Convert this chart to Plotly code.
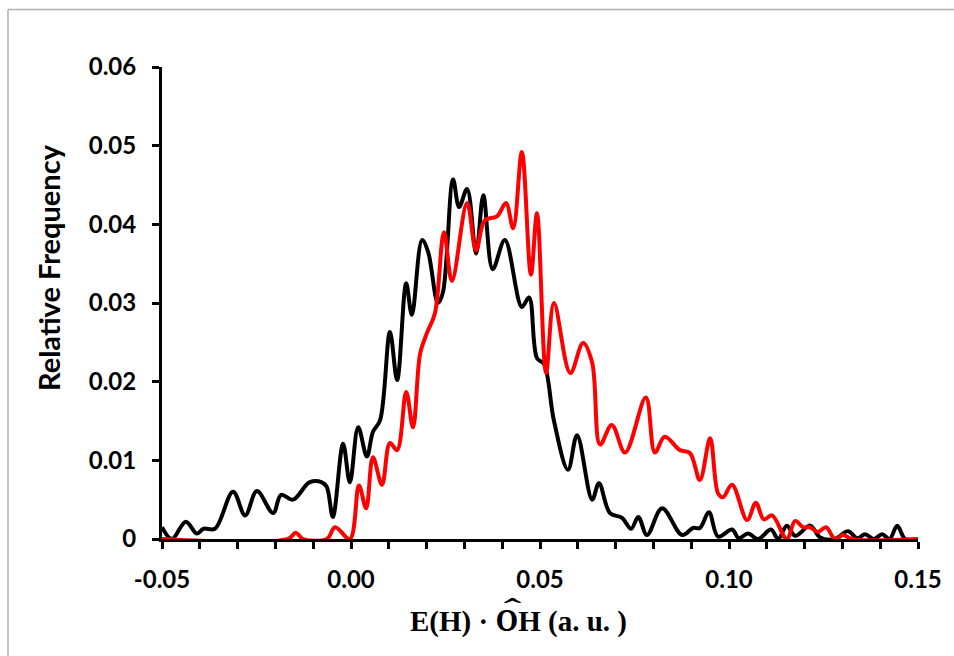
import plotly.graph_objects as go

# Black series
black_x = [-0.0500, -0.0474, -0.0437, -0.0408, -0.0390, -0.0360, -0.0312, -0.0280, -0.0249,
           -0.0206, -0.0185, -0.0153, -0.0110, -0.0077, -0.0064, -0.0048, -0.0021, -0.0003,
           0.0019, 0.0042, 0.0058, 0.0077, 0.0103, 0.0122, 0.0146, 0.0161, 0.0188, 0.0204,
           0.0230, 0.0243, 0.0270, 0.0286, 0.0307, 0.0331, 0.0350, 0.0375, 0.0407, 0.0452,
           0.0471, 0.0492, 0.0511, 0.0537, 0.0574, 0.0598, 0.0638, 0.0656, 0.0685, 0.0717,
           0.0741, 0.0760, 0.0783, 0.0823, 0.0876, 0.0905, 0.0923, 0.0947, 0.0971, 0.1008,
           0.1026, 0.1050, 0.1077, 0.1111, 0.1130, 0.1153, 0.1175, 0.1215, 0.1241, 0.1280,
           0.1315, 0.1339, 0.1360, 0.1383, 0.1405, 0.1425, 0.1445, 0.1466, 0.1500]
black_y = [0.0015, 0.0000, 0.0022, 0.0007, 0.0013, 0.0013, 0.0060, 0.0030, 0.0061,
           0.0033, 0.0056, 0.0050, 0.0072, 0.0072, 0.0066, 0.0028, 0.0121, 0.0072,
           0.0142, 0.0105, 0.0136, 0.0151, 0.0263, 0.0202, 0.0325, 0.0285, 0.0380, 0.0365,
           0.0300, 0.0313, 0.0457, 0.0422, 0.0445, 0.0363, 0.0437, 0.0343, 0.0380, 0.0295,
           0.0307, 0.0230, 0.0222, 0.0150, 0.0088, 0.0132, 0.0050, 0.0071, 0.0033, 0.0027,
           0.0013, 0.0028, 0.0005, 0.0039, 0.0005, 0.0014, 0.0014, 0.0034, 0.0003, 0.0012,
           0.0001, 0.0007, 0.0000, 0.0012, 0.0000, 0.0017, 0.0004, 0.0017, 0.0002, 0.0000,
           0.0010, 0.0001, 0.0006, 0.0000, 0.0006, 0.0000, 0.0017, 0.0000, 0.0000]

# Red series
red_x = [-0.0500, -0.0167, -0.0146, -0.0127, -0.0064, -0.0042, -0.0003, 0.0021, 0.0040,
         0.0058, 0.0082, 0.0103, 0.0122, 0.0146, 0.0164, 0.0183, 0.0201, 0.0222, 0.0246,
         0.0267, 0.0307, 0.0331, 0.0354, 0.0386, 0.0410, 0.0429, 0.0452, 0.0476, 0.0492,
         0.0516, 0.0537, 0.0580, 0.0614, 0.0638, 0.0659, 0.0690, 0.0725, 0.0780, 0.0804,
         0.0830, 0.0870, 0.0897, 0.0923, 0.0950, 0.0971, 0.0984, 0.1008, 0.1048, 0.1071,
         0.1092, 0.1114, 0.1153, 0.1175, 0.1196, 0.1214, 0.1235, 0.1257, 0.1280, 0.1302,
         0.1325, 0.1500]
red_y = [0.0000, 0.0000, 0.0008, 0.0000, 0.0000, 0.0015, 0.0000, 0.0068, 0.0039,
         0.0104, 0.0069, 0.0122, 0.0113, 0.0187, 0.0142, 0.0236, 0.0262, 0.0287, 0.0390,
         0.0328, 0.0427, 0.0367, 0.0405, 0.0410, 0.0427, 0.0395, 0.0492, 0.0336, 0.0414,
         0.0211, 0.0300, 0.0211, 0.0249, 0.0224, 0.0120, 0.0145, 0.0110, 0.0180, 0.0110,
         0.0130, 0.0113, 0.0109, 0.0075, 0.0128, 0.0058, 0.0053, 0.0069, 0.0024, 0.0046,
         0.0025, 0.0030, 0.0000, 0.0023, 0.0015, 0.0015, 0.0009, 0.0015, 0.0000, 0.0005,
         0.0000, 0.0000]

x_tickvals = [round(-0.05 + 0.01 * i, 2) for i in range(21)]
x_ticklabels = {-0.05: "-0.05", 0.0: "0.00", 0.05: "0.05", 0.1: "0.10", 0.15: "0.15"}
y_tickvals = [0, 0.01, 0.02, 0.03, 0.04, 0.05, 0.06]
y_ticklabels = ["0", "0.01", "0.02", "0.03", "0.04", "0.05", "0.06"]

x_title = "E(H) · O\u1DCDH (a. u. )"
y_title = "Relative Frequency"

fig = go.Figure()
fig.add_trace(go.Scatter(x=black_x, y=black_y, mode="lines",
                         line=dict(color="#000000", width=4, shape="spline", smoothing=1.0),
                         showlegend=False, hoverinfo="skip"))
fig.add_trace(go.Scatter(x=red_x, y=red_y, mode="lines",
                         line=dict(color="#ff0000", width=4, shape="spline", smoothing=1.0),
                         showlegend=False, hoverinfo="skip"))

tick_font = dict(family="Lato, 'Open Sans', sans-serif", size=24, color="#000000", weight="bold")

fig.update_layout(
    width=954, height=656,
    margin=dict(l=162, r=36, t=67, b=117),
    paper_bgcolor="#ffffff", plot_bgcolor="#ffffff",
    xaxis=dict(range=[-0.05, 0.15], tickmode="array", tickvals=x_tickvals,
               ticktext=[x_ticklabels.get(v, "") for v in x_tickvals],
               showgrid=False, zeroline=False, showline=True, linecolor="#000000", linewidth=3,
               ticks="outside", ticklen=7, tickwidth=3, tickcolor="#000000",
               tickfont=tick_font, ticklabelstandoff=10, layer="below traces"),
    yaxis=dict(range=[0, 0.06], tickmode="array", tickvals=y_tickvals, ticktext=y_ticklabels,
               showgrid=False, zeroline=False, showline=True, linecolor="#000000", linewidth=3,
               ticks="outside", ticklen=7, tickwidth=3, tickcolor="#000000",
               tickfont=tick_font, ticklabelstandoff=11, layer="below traces"),
    annotations=[
        dict(text="<b>" + x_title + "</b>", xref="paper", yref="paper",
             x=(518 - 162) / 756, y=(539 - 618) / 472, xanchor="center", yanchor="middle",
             showarrow=False, font=dict(family="'Liberation Serif', 'DejaVu Serif', serif", size=29, color="#000000")),
        dict(text="<b>" + y_title + "</b>", xref="paper", yref="paper",
             x=(48 - 162) / 756, y=(539 - 268) / 472, xanchor="center", yanchor="middle",
             textangle=-90, showarrow=False,
             font=dict(family="Lato, 'Open Sans', sans-serif", size=29, color="#000000")),
    ],
    shapes=[
        dict(type="line", xref="paper", yref="paper", x0=(8 - 162) / 756, x1=(8 - 162) / 756,
             y0=(539 - 9.5) / 472, y1=(539 - 700) / 472, line=dict(color="#b0b0b0", width=1.5)),
        dict(type="line", xref="paper", yref="paper", x0=(8 - 162) / 756, x1=(1000 - 162) / 756,
             y0=(539 - 9.5) / 472, y1=(539 - 9.5) / 472, line=dict(color="#b0b0b0", width=1.5)),
    ],
)

fig.write_html("out.html")
